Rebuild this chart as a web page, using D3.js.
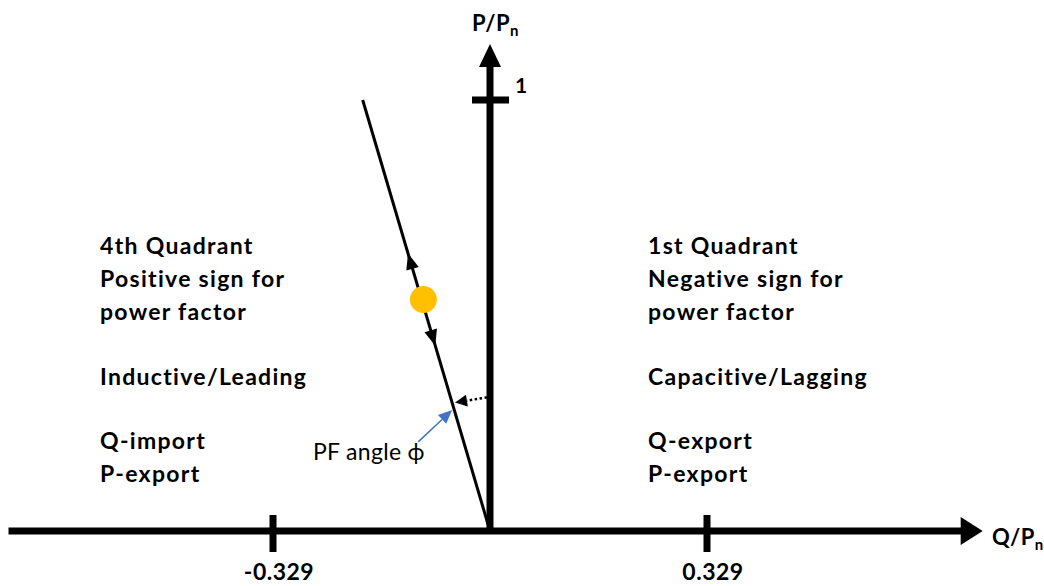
<!DOCTYPE html>
<html><head><meta charset="utf-8">
<script src="https://cdn.jsdelivr.net/npm/d3@7"></script>
<style>html,body{margin:0;padding:0;background:#fff;}svg{display:block;font-family:Lato,"Open Sans",sans-serif;}</style>
</head><body>
<svg id="c" width="1044" height="586"></svg>
<script>
// ---- data ----
const qTicks = [-0.329, 0.329];
const qTickLabels = ["-0.329", "0.329"];
const pTicks = [1];
const pTickLabels = ["1"];
const qAxisExtent = [-0.730, 0.747];
const pAxisExtent = [0, 1.13];
const pfLine = [{q: 0, p: 0}, {q: -0.193, p: 1.0}];
const operatingPoint = [{q: -0.101, p: 0.537}];
const directionArrowsP = [0.644, 0.43];   // up, down
const directionArrowsDir = ["up", "down"];
const angleArcP = 0.31;
const leftLabels = ["4th Quadrant", "Positive sign for", "power factor", "", "Inductive/Leading", "", "Q-import", "P-export"];
const rightLabels = ["1st Quadrant", "Negative sign for", "power factor", "", "Capacitive/Lagging", "", "Q-export", "P-export"];

// ---- scales ----
const x = d3.scaleLinear().domain([-0.329, 0.329]).range([273, 707]);
const y = d3.scaleLinear().domain([0, 1]).range([531, 100]);
const svg = d3.select("#c");

// x axis
const x0 = x(0), y0 = y(0);
svg.append("line").attr("x1", x(qAxisExtent[0])).attr("x2", x(qAxisExtent[1]) - 18)
  .attr("y1", y0).attr("y2", y0).attr("stroke", "#000").attr("stroke-width", 7);
svg.append("path").attr("d", `M${x(qAxisExtent[1])},${y0} L${x(qAxisExtent[1]) - 22},${y0 - 14} L${x(qAxisExtent[1]) - 22},${y0 + 14}Z`).attr("fill", "#000");
// y axis
svg.append("line").attr("x1", x0).attr("x2", x0).attr("y1", y0 + 3).attr("y2", y(pAxisExtent[1]) + 20)
  .attr("stroke", "#000").attr("stroke-width", 7);
svg.append("path").attr("d", `M${x0},${y(pAxisExtent[1])} L${x0 - 11},${y(pAxisExtent[1]) + 23} L${x0 + 11},${y(pAxisExtent[1]) + 23}Z`).attr("fill", "#000");

// x ticks
qTicks.forEach((t, i) => {
  svg.append("line").attr("x1", x(t)).attr("x2", x(t)).attr("y1", y0 - 16).attr("y2", y0 + 21)
    .attr("stroke", "#000").attr("stroke-width", 7);
  svg.append("text").attr("x", x(t) + 6).attr("y", 580).attr("text-anchor", "middle")
    .attr("font-weight", "bold").attr("font-size", 23).attr("letter-spacing", 0.5).text(qTickLabels[i]);
});
// y ticks
pTicks.forEach((t, i) => {
  svg.append("line").attr("x1", x0 - 18).attr("x2", x0 + 19).attr("y1", y(t)).attr("y2", y(t))
    .attr("stroke", "#000").attr("stroke-width", 7);
  svg.append("text").attr("x", x0 + 25).attr("y", y(t) - 7)
    .attr("font-weight", "bold").attr("font-size", 21).text(pTickLabels[i]);
});

// axis titles
const tq = svg.append("text").attr("x", 992).attr("y", 545).attr("font-weight", "bold").attr("font-size", 22).attr("letter-spacing", 0.5);
tq.append("tspan").text("Q/P");
tq.append("tspan").attr("font-size", 15).attr("dy", 5).text("n");
const tp = svg.append("text").attr("x", 472).attr("y", 31).attr("font-weight", "bold").attr("font-size", 22).attr("letter-spacing", 0.5);
tp.append("tspan").text("P/P");
tp.append("tspan").attr("font-size", 15).attr("dy", 5).text("n");

// PF line
const line = d3.line().x(d => x(d.q)).y(d => y(d.p));
svg.append("path").datum(pfLine).attr("d", line).attr("stroke", "#000").attr("stroke-width", 3).attr("fill", "none");

const qAtP = p => pfLine[0].q + (pfLine[1].q - pfLine[0].q) * (p - pfLine[0].p) / (pfLine[1].p - pfLine[0].p);
const dx = x(pfLine[1].q) - x(pfLine[0].q), dy = y(pfLine[1].p) - y(pfLine[0].p);
const len = Math.hypot(dx, dy), ux = dx / len, uy = dy / len;

// direction arrows
directionArrowsP.forEach((p, i) => {
  const s = directionArrowsDir[i] === "up" ? 1 : -1;
  const tx = x(qAtP(p)), ty = y(p);
  const bx = tx - s * ux * 16, by = ty - s * uy * 16;
  const nx = -uy, ny = ux;
  svg.append("path").attr("d", `M${tx},${ty} L${bx + nx * 6.5},${by + ny * 6.5} L${bx - nx * 6.5},${by - ny * 6.5}Z`).attr("fill", "#000");
});

// operating point
svg.selectAll("circle.op").data(operatingPoint).join("circle").attr("class", "op")
  .attr("cx", d => x(d.q)).attr("cy", d => y(d.p)).attr("r", 13.5).attr("fill", "#FFC000");

// dotted angle arrow
{
  const sx = x0 - 3, sy = y(angleArcP);
  const ex = x(qAtP(angleArcP - 0.012)) + 3, ey = y(angleArcP - 0.012);
  const adx = ex - sx, ady = ey - sy, al = Math.hypot(adx, ady), ax = adx / al, ay = ady / al;
  const hx = ex - ax * 12, hy = ey - ay * 12;
  svg.append("line").attr("x1", sx).attr("y1", sy).attr("x2", hx).attr("y2", hy)
    .attr("stroke", "#000").attr("stroke-width", 2.5).attr("stroke-dasharray", "2.5,2.5");
  svg.append("path").attr("d", `M${ex},${ey} L${hx - ay * 6},${hy + ax * 6} L${hx + ay * 6},${hy - ax * 6}Z`).attr("fill", "#000");
}

// blue annotation arrow
{
  const ex = x(qAtP(angleArcP - 0.029)) - 2, ey = y(angleArcP - 0.029);
  const sx = ex - 34, sy = ey + 32;
  const adx = ex - sx, ady = ey - sy, al = Math.hypot(adx, ady), ax = adx / al, ay = ady / al;
  const hx = ex - ax * 14, hy = ey - ay * 14;
  svg.append("line").attr("x1", sx).attr("y1", sy).attr("x2", hx).attr("y2", hy)
    .attr("stroke", "#4472C4").attr("stroke-width", 1.5);
  svg.append("path").attr("d", `M${ex},${ey} L${hx - ay * 6},${hy + ax * 6} L${hx + ay * 6},${hy - ax * 6}Z`).attr("fill", "#4472C4");
  svg.append("text").attr("x", 313).attr("y", 460).attr("font-size", 23).attr("letter-spacing", 0.3).attr("fill", "#000").text("PF angle ϕ");
}

// quadrant labels
const lineY = [254, 287, 320, 352, 385, 416, 449, 482];
[[100, leftLabels], [648, rightLabels]].forEach(([lx, labels]) => {
  svg.append("g").selectAll("text").data(labels).join("text")
    .attr("x", lx).attr("y", (d, i) => lineY[i]).attr("font-weight", "bold").attr("font-size", 23)
    .attr("letter-spacing", 1.3).text(d => d);
});
</script>
</body></html>
